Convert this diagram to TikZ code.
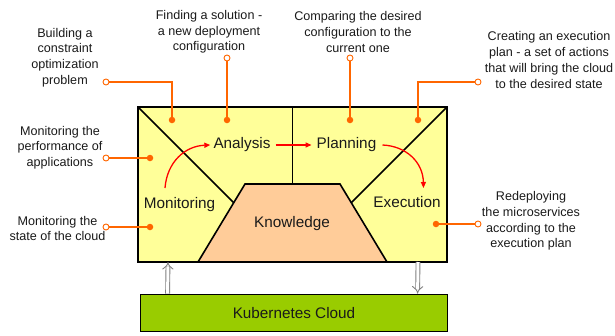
\documentclass[tikz,border=0pt]{standalone}
\usepackage{fontspec}
\setmainfont{Liberation Sans}
\usetikzlibrary{arrows.meta}
\definecolor{boxyellow}{HTML}{FFFF99}
\definecolor{knowpeach}{HTML}{FFCC99}
\definecolor{kubegreen}{HTML}{99CC00}
\definecolor{callorange}{HTML}{FF6600}
\definecolor{txtgray}{HTML}{1A1A1A}
\begin{document}
\begin{tikzpicture}[x=1pt,y=-1pt,
 note/.style={align=center, font=\fontsize{12.6}{15.7}\selectfont, text=txtgray, inner sep=0pt},
 phase/.style={font=\fontsize{15.3}{18}\selectfont, text=txtgray, inner sep=0pt},
 callout/.style={draw=callorange, line width=1.8pt},
 hole/.style={circle, draw=callorange, fill=white, line width=0.9pt, minimum size=6pt, inner sep=0pt},
 pin/.style={circle, fill=callorange, minimum size=6.5pt, inner sep=0pt},
 flow/.style={draw=red, line width=1.3pt, -{Triangle[length=6pt,width=5pt]}},
 feed/.style={double=white, draw=gray, double distance=3pt, line width=0.9pt, -{Implies[scale=1.8]}},
]
\useasboundingbox (0,0) rectangle (615,335);

% main MAPE-K box
\node[fill=boxyellow, minimum width=309pt, minimum height=155pt, anchor=north west, inner sep=0pt, outer sep=0pt] (mape) at (138,107) {};
\filldraw[fill=knowpeach, line width=1.6pt] (198,262) -- (245,184) -- (340,184) -- (387,262);
\draw[line width=1.6pt] (mape.north west) -- (233.7,202.7);
\draw[line width=1.6pt] (mape.north east) -- (351.3,202.7);
\draw[line width=1.6pt] (292.5,107) -- (292.5,184);
\draw[line width=2pt] (mape.north west) rectangle (mape.south east);

% phase labels
\node[phase] (mon) at (179.5,205) {Monitoring};
\node[phase] (ana) at (242,145) {Analysis};
\node[phase] (pla) at (346.5,145) {Planning};
\node[phase] (exe) at (407,202) {Execution};
\node[phase] (kno) at (292,224) {Knowledge};

% Kubernetes cloud
\node[draw, line width=1.8pt, fill=kubegreen, minimum width=307pt, minimum height=37pt, inner sep=0pt, font=\fontsize{15.3}{18}\selectfont, text=txtgray] (kube) at (294,313) {Kubernetes Cloud};

\draw[feed] ([xshift=28pt]kube.north west) -- ([xshift=30pt]mape.south west);
\draw[feed] ([xshift=280pt]mape.south west) -- ([xshift=278pt]kube.north west);

% red flow arrows
\coordinate (m1) at (165,188);
\coordinate (e1) at (423.5,188);
\draw[flow] (m1) .. controls (167,162) and (185,146) .. ([xshift=-3pt]ana.west);
\draw[flow] ([xshift=5pt]ana.east) -- ([xshift=-5pt]pla.west);
\draw[flow] ([xshift=6pt]pla.east) .. controls (406,146) and (423,162) .. (e1);

% callouts
\node[note] (t1) at (65,57.5) {Building a\\constraint\\optimization\\problem};
\node[hole] (h1) at (106,82) {};
\node[pin] (p1) at (172,120) {};
\draw[callout] (h1) -| (p1);

\node[note] (t2) at (209,32) {Finding a solution -\\a new deployment\\configuration};
\node[hole] (h2) at (227,58) {};
\node[pin] (p2) at (227,120) {};
\draw[callout] (h2) -- (p2);

\node[note] (t3) at (358,32) {Comparing the desired\\configuration to the\\current one};
\node[hole] (h3) at (350,58) {};
\node[pin] (p3) at (350,120) {};
\draw[callout] (h3) -- (p3);

\node[note] (t4) at (549,60) {Creating an execution\\plan - a set of actions\\that will bring the cloud\\to the desired state};
\node[hole] (h4) at (478,82) {};
\node[pin] (p4) at (418,120) {};
\draw[callout] (h4) -| (p4);

\node[note] (t5) at (60,147.5) {Monitoring the\\performance of\\applications};
\node[hole] (h5) at (106,158) {};
\node[pin] (p5) at (150,158) {};
\draw[callout] (h5) -- (p5);

\node[note] (t6) at (57.5,228.5) {Monitoring the\\state of the cloud};
\node[hole] (h6) at (106,227) {};
\node[pin] (p6) at (150,227) {};
\draw[callout] (h6) -- (p6);

\node[note] (t7) at (531,221) {Redeploying\\the microservices\\according to the\\execution plan};
\node[hole] (h7) at (478,224) {};
\node[pin] (p7) at (436,224) {};
\draw[callout] (h7) -- (p7);
\end{tikzpicture}
\end{document}
